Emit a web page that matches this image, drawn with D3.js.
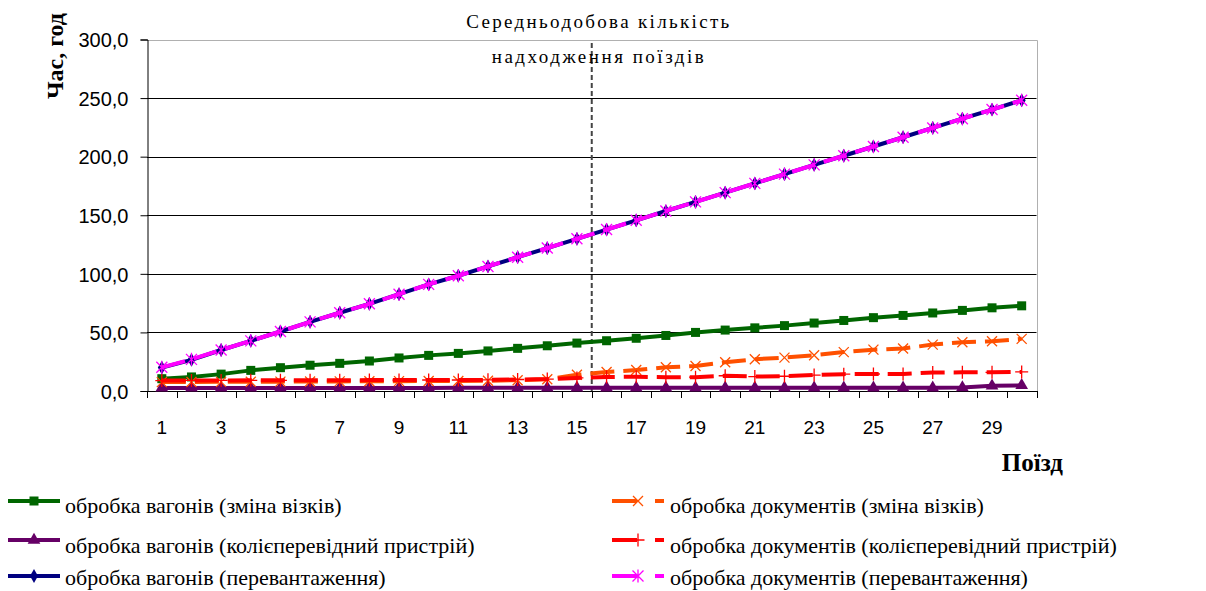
<!DOCTYPE html>
<html><head><meta charset="utf-8">
<script src="https://cdn.jsdelivr.net/npm/d3@7"></script>
<style>body{margin:0;background:#fff}svg{display:block}</style>
</head><body>
<svg id="c" width="1206" height="591"></svg>
<script>
const categories = [1,2,3,4,5,6,7,8,9,10,11,12,13,14,15,16,17,18,19,20,21,22,23,24,25,26,27,28,29,30];
const xTickLabels = [1,3,5,7,9,11,13,15,17,19,21,23,25,27,29];
const yTicks = [0,50,100,150,200,250,300];
const vagZmina = [10.5,12.0,14.4,17.6,19.9,22.0,23.6,25.6,28.2,30.4,32.1,34.2,36.4,38.6,40.9,42.9,45.0,47.4,50.0,52.0,53.9,55.8,58.0,60.2,62.6,64.5,66.6,68.8,71.0,72.7];
const vagKoliy = [2.6,2.6,2.6,2.6,2.6,2.6,2.6,2.6,2.6,2.6,2.7,2.7,2.7,2.7,2.7,2.7,2.7,2.7,2.7,2.7,2.8,2.8,2.8,2.8,2.8,2.8,2.8,3.0,4.5,4.8];
const vagPerev = [20.0,26.6,35.0,42.8,50.8,59.0,66.8,74.4,82.6,91.0,98.4,106.3,114.2,122.0,129.9,137.8,145.7,153.6,161.4,169.3,177.2,185.1,193.0,200.8,208.7,216.6,224.5,232.4,240.2,248.1];
const docZmina = [7.6,7.7,7.8,7.9,8.0,8.1,8.2,8.3,8.4,8.5,8.6,8.8,9.2,10.0,13.8,16.2,17.9,20.2,21.4,24.5,27.1,28.5,30.5,33.2,35.3,36.3,39.6,41.6,42.4,44.5];
const docKoliy = [8.9,9.0,9.0,9.1,9.1,9.2,9.2,9.3,9.3,9.4,9.4,9.5,9.8,10.2,11.2,12.0,12.2,11.7,11.8,13.0,12.3,12.6,13.6,14.4,14.5,14.6,15.8,15.9,15.9,16.3];
const docPerev = [20.2,27.0,35.0,42.8,50.8,59.0,66.8,74.4,82.6,91.0,98.4,106.3,114.2,122.0,129.9,137.8,145.7,153.6,161.4,169.3,177.2,185.1,193.0,200.8,208.7,216.6,224.5,232.4,240.2,248.1];
const seriesNames = ["обробка вагонів (зміна візків)","обробка вагонів (колієперевідний пристрій)","обробка вагонів (перевантаження)","обробка документів (зміна візків)","обробка документів (колієперевідний пристрій)","обробка документів (перевантаження)"];
const avgLineAt = 15.5;
const avgLabel = ["Середньодобова кількість","надходження поїздів"];
const yTitle = "Час, год";
const xTitle = "Поїзд";

const series = [
  {name:seriesNames[0], values:vagZmina, color:"#006600", marker:"square", dash:null},
  {name:seriesNames[1], values:vagKoliy, color:"#660066", marker:"triangle", dash:null},
  {name:seriesNames[2], values:vagPerev, color:"#000080", marker:"diamond", dash:null},
  {name:seriesNames[3], values:docZmina, color:"#FF5000", marker:"x", dash:"24,9"},
  {name:seriesNames[4], values:docKoliy, color:"#FF0000", marker:"plus", dash:"24,9"},
  {name:seriesNames[5], values:docPerev, color:"#FF00FF", marker:"star", dash:"24,9"}
];

const svg = d3.select("#c");
const L = 147, R = 1036.5, T = 39.5, B = 391;
const x = d3.scaleBand().domain(categories).range([L, R]).padding(0);
const bw = x.bandwidth();
const cx = d => x(d) + bw/2;
const y = d3.scaleLinear().domain([0,300]).range([B, T]);
const fmt = v => d3.format(".1f")(v).replace(".", ",");
const serif = "Liberation Serif, Times New Roman, serif";
const sans = "Liberation Sans, Arial, sans-serif";

// gridlines
svg.append("g").selectAll("line").data(yTicks.filter(v => v>0 && v<300)).join("line")
  .attr("x1", L).attr("x2", R).attr("y1", d=>Math.round(y(d))+0.5).attr("y2", d=>Math.round(y(d))+0.5)
  .attr("stroke","#000").attr("stroke-width",1);
// plot border top/right
svg.append("path").attr("d", `M${L},${Math.round(T)+0.5}H${Math.round(R)+0.5}V${B}`)
  .attr("fill","none").attr("stroke","#b0b0b0").attr("stroke-width",1);

// avg dashed line
const ax = x(Math.ceil(avgLineAt));
svg.append("line").attr("x1", ax).attr("x2", ax).attr("y1", y(297)).attr("y2", B)
  .attr("stroke","#444").attr("stroke-width",2).attr("stroke-dasharray","5,3");

// y axis
const yAxis = d3.axisLeft(y).tickValues(yTicks).tickSize(7).tickFormat(fmt);
const gy = svg.append("g").attr("transform", `translate(${L+0.5},0)`).call(yAxis);
gy.select(".domain").attr("stroke","#000");
gy.selectAll(".tick line").attr("stroke","#000");
gy.selectAll("text").attr("font-family",sans).attr("font-size",20)
  .attr("fill","#000").attr("x",-19).attr("dy","0.36em");

// x axis: labels
const xAxis = d3.axisBottom(x).tickValues(xTickLabels).tickSize(0).tickPadding(29);
const gx = svg.append("g").attr("transform", `translate(0,${B+0.5})`).call(xAxis);
gx.select(".domain").remove();
gx.selectAll("text").attr("font-family",sans).attr("font-size",19).attr("fill","#000");
// x axis line + boundary ticks
svg.append("line").attr("x1", L).attr("x2", R+0.5).attr("y1", B+0.5).attr("y2", B+0.5).attr("stroke","#000");
const bounds = categories.map(d => x(d)).concat([R]);
svg.append("g").selectAll("line").data(bounds).join("line")
  .attr("x1", d=>Math.round(d)+0.5).attr("x2", d=>Math.round(d)+0.5).attr("y1", B).attr("y2", B+7)
  .attr("stroke","#000");

function markerPath(type, s){
  const h = s/2;
  switch(type){
    case "x": return `M${-h},${-h}L${h},${h}M${-h},${h}L${h},${-h}`;
    case "plus": return `M${-h-1},0L${h+1},0M0,${-h-1}L0,${h+1}`;
    case "star": return `M${-h},${-h}L${h},${h}M${-h},${h}L${h},${-h}M0,${-h-1}L0,${h+1}`;
  }
}
function drawMarker(g, type, color){
  if (type==="square") g.append("rect").attr("x",-4.5).attr("y",-4.5).attr("width",9).attr("height",9).attr("fill",color);
  else if (type==="triangle") g.append("path").attr("d", d3.symbol(d3.symbolTriangle, 70)()).attr("fill",color);
  else if (type==="diamond") g.append("path").attr("d", d3.symbol(d3.symbolDiamond, 55)()).attr("fill",color);
  else g.append("path").attr("d", markerPath(type, type==="x"?10:11)).attr("stroke",color).attr("stroke-width",1.3).attr("fill","none");
}

const line = d3.line().x((d,i)=>cx(categories[i])).y(d=>y(d));
series.forEach(s => {
  const g = svg.append("g");
  g.append("path").attr("d", line(s.values)).attr("fill","none").attr("stroke", s.color)
    .attr("stroke-width",4).attr("stroke-linejoin","round")
    .attr("stroke-dasharray", s.dash);
  s.values.forEach((v,i) => {
    const m = g.append("g").attr("transform", `translate(${cx(categories[i])},${y(v)})`);
    drawMarker(m, s.marker, s.color);
  });
});

// annotation text
const annoLen = [263, 212];
avgLabel.forEach((t,i)=>{
  svg.append("text").attr("x", ax + 6).attr("y", i===0?28:63).attr("text-anchor","middle")
    .attr("font-family",serif).attr("font-size",19).attr("fill","#000")
    .attr("textLength", annoLen[i]).attr("lengthAdjust","spacing").text(t);
});

// axis titles
svg.append("text").attr("transform","translate(63,56) rotate(-90)").attr("text-anchor","middle")
  .attr("font-family",serif).attr("font-weight","bold").attr("font-size",24).text(yTitle);
svg.append("text").attr("x",1063).attr("y",471).attr("text-anchor","end")
  .attr("font-family",serif).attr("font-weight","bold").attr("font-size",25).text(xTitle);

// legend
const legX = [8, 612], legLineY = [501, 540, 576], legTextY = [513, 553, 585];
series.forEach((s,i) => {
  const col = Math.floor(i/3), row = i%3;
  const g = svg.append("g").attr("transform", `translate(${legX[col]},${legLineY[row]})`);
  g.append("line").attr("x1",0).attr("x2",52).attr("stroke",s.color).attr("stroke-width",4)
    .attr("stroke-dasharray", s.dash ? "25,18" : null);
  drawMarker(g.append("g").attr("transform","translate(26,0)"), s.marker, s.color);
  svg.append("text").attr("x", legX[col] + (col===0?57:58)).attr("y", legTextY[row])
    .attr("font-family",serif).attr("font-size",22).attr("fill","#000").text(s.name);
});
</script>
</body></html>
